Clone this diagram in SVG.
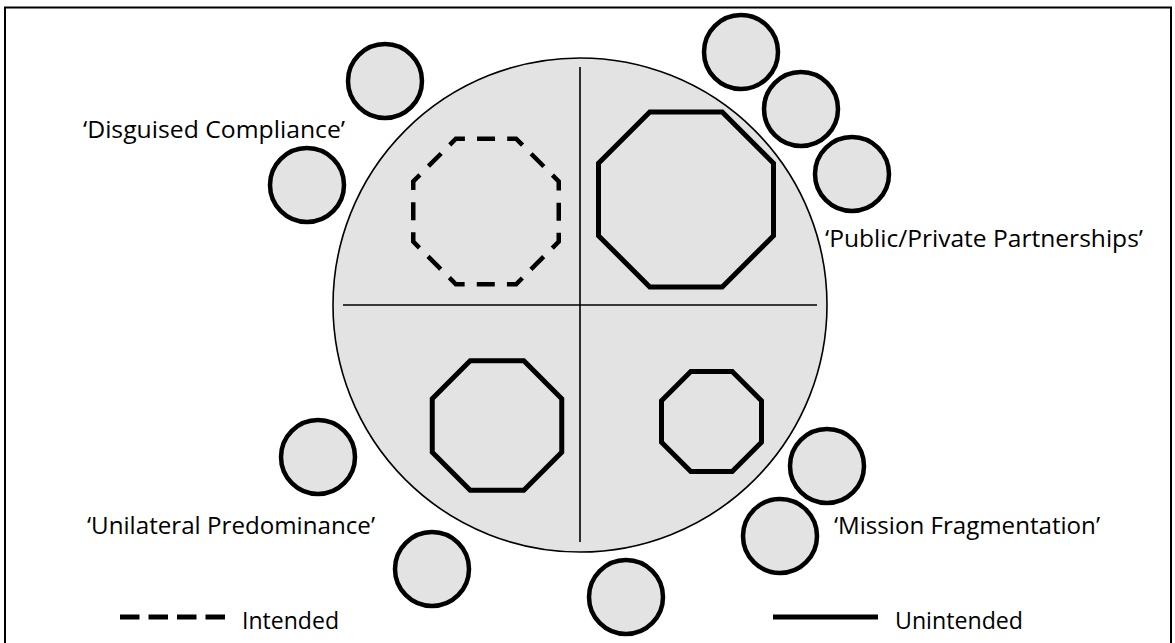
<svg xmlns="http://www.w3.org/2000/svg" width="1175" height="643" viewBox="0 0 1175 643">
  <style>
    .disc { fill: #e3e3e3; stroke: #000; stroke-width: 4.5; }
    .oct { fill: none; stroke: #000; stroke-width: 5; stroke-linejoin: miter; }
    .oct-dash { fill: none; stroke: #000; stroke-width: 4.5; stroke-dasharray: 18 12.15; stroke-dashoffset: 9; }
    .axis { stroke: #000; stroke-width: 1.6; }
    .label { font-family: "Open Sans", "Noto Sans", "Liberation Sans", sans-serif; font-size: 24px; fill: #000; }
  </style>

  <!-- frame -->
  <rect id="frame" x="5" y="7.5" width="1166" height="660" fill="#fff" stroke="#000" stroke-width="2"/>

  <!-- central field -->
  <g id="field">
    <circle cx="580" cy="305" r="247" fill="#e3e3e3" stroke="#000" stroke-width="1.6"/>
  </g>

  <!-- quadrant dividers -->
  <g id="dividers">
    <line class="axis" x1="580" y1="67" x2="580" y2="542"/>
    <line class="axis" x1="343" y1="305" x2="817" y2="305"/>
  </g>

  <!-- quadrant octagons -->
  <g id="oct-disguised">
    <polygon class="oct-dash" points="455.9,138.75 516.1,138.75 558.75,181.4 558.75,241.6 516.1,284.25 455.9,284.25 413.25,241.6 413.25,181.4"/>
  </g>
  <g id="oct-partnerships">
    <polygon class="oct" points="649.8,112 722.2,112 773.5,163.3 773.5,235.7 722.2,287 649.8,287 598.5,235.7 598.5,163.3"/>
  </g>
  <g id="oct-predominance">
    <polygon class="oct" points="470.2,360.75 523.8,360.75 561.75,398.7 561.75,452.3 523.8,490.25 470.2,490.25 432.25,452.3 432.25,398.7"/>
  </g>
  <g id="oct-fragmentation">
    <polygon class="oct" points="690.8,371.5 732.2,371.5 761.5,400.8 761.5,442.2 732.2,471.5 690.8,471.5 661.5,442.2 661.5,400.8"/>
  </g>

  <!-- satellite discs around the field -->
  <g id="satellites">
    <circle id="sat-1" class="disc" cx="385" cy="81" r="37"/>
    <circle id="sat-2" class="disc" cx="307" cy="185" r="37"/>
    <circle id="sat-3" class="disc" cx="741" cy="52" r="37"/>
    <circle id="sat-4" class="disc" cx="801" cy="109" r="37"/>
    <circle id="sat-5" class="disc" cx="852" cy="174" r="37"/>
    <circle id="sat-6" class="disc" cx="318" cy="457" r="37"/>
    <circle id="sat-7" class="disc" cx="432" cy="569" r="37"/>
    <circle id="sat-8" class="disc" cx="626" cy="597" r="37"/>
    <circle id="sat-9" class="disc" cx="827" cy="466" r="37"/>
    <circle id="sat-10" class="disc" cx="780" cy="536" r="37"/>
  </g>

  <!-- quadrant labels -->
  <g id="labels">
    <text class="label" x="83" y="138" textLength="262" lengthAdjust="spacingAndGlyphs">&#8216;Disguised Compliance&#8217;</text>
    <text class="label" x="825" y="247" textLength="318" lengthAdjust="spacingAndGlyphs">&#8216;Public/Private Partnerships&#8217;</text>
    <text class="label" x="87" y="534" textLength="288" lengthAdjust="spacingAndGlyphs">&#8216;Unilateral Predominance&#8217;</text>
    <text class="label" x="834" y="534" textLength="266" lengthAdjust="spacingAndGlyphs">&#8216;Mission Fragmentation&#8217;</text>
  </g>

  <!-- legend -->
  <g id="legend">
    <line x1="120" y1="617" x2="225" y2="617" stroke="#000" stroke-width="5" stroke-dasharray="19.5 9"/>
    <text class="label" x="242" y="629" textLength="97" lengthAdjust="spacingAndGlyphs">Intended</text>
    <line x1="773" y1="617" x2="878" y2="617" stroke="#000" stroke-width="5"/>
    <text class="label" x="895" y="629" textLength="128" lengthAdjust="spacingAndGlyphs">Unintended</text>
  </g>
</svg>
